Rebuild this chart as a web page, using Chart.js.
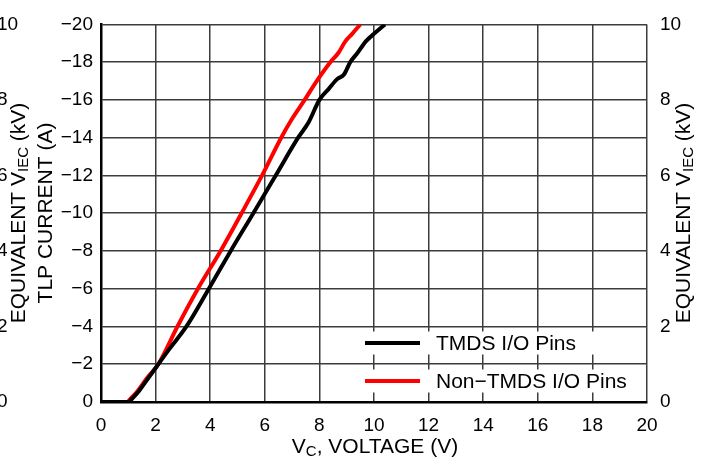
<!DOCTYPE html>
<html>
<head>
<meta charset="utf-8">
<script src="https://cdn.jsdelivr.net/npm/chart.js@4.4.1/dist/chart.umd.min.js"></script>
<style>
  html, body { margin: 0; padding: 0; background: #fff; }
  #wrap { width: 703px; height: 466px; }
</style>
</head>
<body>
<div id="wrap"><canvas id="myChart" width="703" height="466"></canvas></div>
<script>
// TLP curves (V, A)
const tmdsVolts  = [0, 1.0, 1.15, 1.4, 1.7, 2.0, 2.5, 3.13, 3.95, 4.75, 5.58, 6.4, 7.22, 7.6, 8.0, 8.35, 8.65, 8.9, 9.13, 9.4, 9.7, 10.0, 10.4];
const tmdsAmps   = [0, 0, -0.2, -0.6, -1.2, -1.8, -2.8, -4, -6, -8, -10, -12, -14, -14.8, -16, -16.6, -17.1, -17.35, -18, -18.5, -19.1, -19.5, -20];
const otherVolts = [0, 0.95, 1.1, 1.35, 1.7, 2.1, 2.8, 3.55, 4.38, 5.15, 5.9, 6.6, 7.0, 7.46, 7.9, 8.4, 8.7, 8.95, 9.2, 9.5];
const otherAmps  = [0, 0, -0.2, -0.6, -1.3, -2, -4, -6, -8, -10, -12, -14, -15, -16, -17, -18, -18.5, -19.1, -19.5, -20];
const seriesNames = ['TMDS I/O Pins', 'Non\u2212TMDS I/O Pins'];
const kvTicks = [0, 2, 4, 6, 8, 10];

const FONT = '"Liberation Sans", Arial, Helvetica, sans-serif';

function pts(xs, ys) {
    return xs.map((v, i) => ({x: v, y: ys[i]}));
}

// text with a subscript part, optionally rotated
function drawSubText(c, parts, x, y, rot) {
    c.save();
    c.translate(x, y);
    if (rot) c.rotate(rot);
    let total = 0;
    parts.forEach(p => { c.font = p[1] + 'px ' + FONT; total += c.measureText(p[0]).width; });
    let cx = -total / 2;
    c.textBaseline = 'middle';
    c.textAlign = 'left';
    c.fillStyle = '#000';
    parts.forEach(p => {
        c.font = p[1] + 'px ' + FONT;
        c.fillText(p[0], cx, p[2]);
        cx += c.measureText(p[0]).width;
    });
    c.restore();
}

const extras = {
    id: 'extras',
    afterDatasetsDraw(chart) {
        const c = chart.ctx;
        // legend inside plot
        const rows = [343, 381];
        chart.data.datasets.forEach((ds, i) => {
            const y = rows[i];
            c.fillStyle = '#fff';
            c.fillRect(362, y - 11.5, 270, 23);
            c.strokeStyle = ds.borderColor;
            c.lineWidth = 4;
            c.beginPath();
            c.moveTo(365, y);
            c.lineTo(420, y);
            c.stroke();
            c.fillStyle = '#000';
            c.font = '21px ' + FONT;
            c.textAlign = 'left';
            c.textBaseline = 'middle';
            c.fillText(ds.label, 436, y + 1);
        });
    },
    afterDraw(chart) {
        const c = chart.ctx;
        const y2 = chart.scales.y2;
        // outer left kV axis (mostly cut off by the page edge)
        c.font = '19px ' + FONT;
        c.fillStyle = '#000';
        c.textAlign = 'left';
        c.textBaseline = 'middle';
        kvTicks.forEach(v => c.fillText(String(v), -3, y2.getPixelForValue(v)));

        drawSubText(c, [['V', 21, 0], ['C', 15, 5], [', VOLTAGE (V)', 21, 0]], 375, 447, 0);
        const iec = [['EQUIVALENT V', 21, 0], ['IEC', 15, 5], [' (kV)', 21, 0]];
        drawSubText(c, iec, 19, 213, -Math.PI / 2);
        drawSubText(c, [['TLP CURRENT (A)', 21, 0]], 46, 213, -Math.PI / 2);
        drawSubText(c, iec, 684, 213, -Math.PI / 2);
    }
};

const gridColor = '#3c3c3c';
var ctx = document.getElementById('myChart').getContext('2d');
var myChart = new Chart(ctx, {
    type: 'line',
    data: {
        datasets: [{
            label: seriesNames[0],
            data: pts(tmdsVolts, tmdsAmps),
            borderColor: '#000000',
            borderWidth: 4,
            pointRadius: 0,
            cubicInterpolationMode: 'monotone'
        }, {
            label: seriesNames[1],
            data: pts(otherVolts, otherAmps),
            borderColor: '#ff0000',
            borderWidth: 4,
            pointRadius: 0,
            cubicInterpolationMode: 'monotone'
        }]
    },
    options: {
        responsive: false,
        animation: false,
        layout: { padding: { top: 17, left: 0, right: 0, bottom: 0 } },
        plugins: {
            legend: { display: false },
            tooltip: { enabled: false }
        },
        scales: {
            x: {
                type: 'linear',
                min: 0,
                max: 20,
                afterFit: s => { s.height = 64; },
                ticks: {
                    stepSize: 2,
                    padding: 12,
                    color: '#000',
                    font: { family: FONT, size: 19 },
                    maxRotation: 0
                },
                grid: { color: gridColor, lineWidth: 1.5, drawTicks: false },
                border: { color: '#000', width: 2.5 }
            },
            y: {
                type: 'linear',
                min: -20,
                max: 0,
                reverse: true,
                afterFit: s => { s.width = 101; },
                ticks: {
                    stepSize: 2,
                    padding: 8,
                    color: '#000',
                    font: { family: FONT, size: 19 },
                    callback: v => String(v).replace('-', '\u2212')
                },
                grid: { color: gridColor, lineWidth: 1.5, drawTicks: false },
                border: { color: '#000', width: 2.5 }
            },
            y2: {
                type: 'linear',
                position: 'right',
                min: 0,
                max: 10,
                afterFit: s => { s.width = 56; },
                ticks: {
                    stepSize: 2,
                    padding: 13,
                    color: '#000',
                    font: { family: FONT, size: 19 }
                },
                grid: { display: false, drawTicks: false },
                border: { display: false }
            }
        }
    },
    plugins: [extras]
});
</script>
</body>
</html>
